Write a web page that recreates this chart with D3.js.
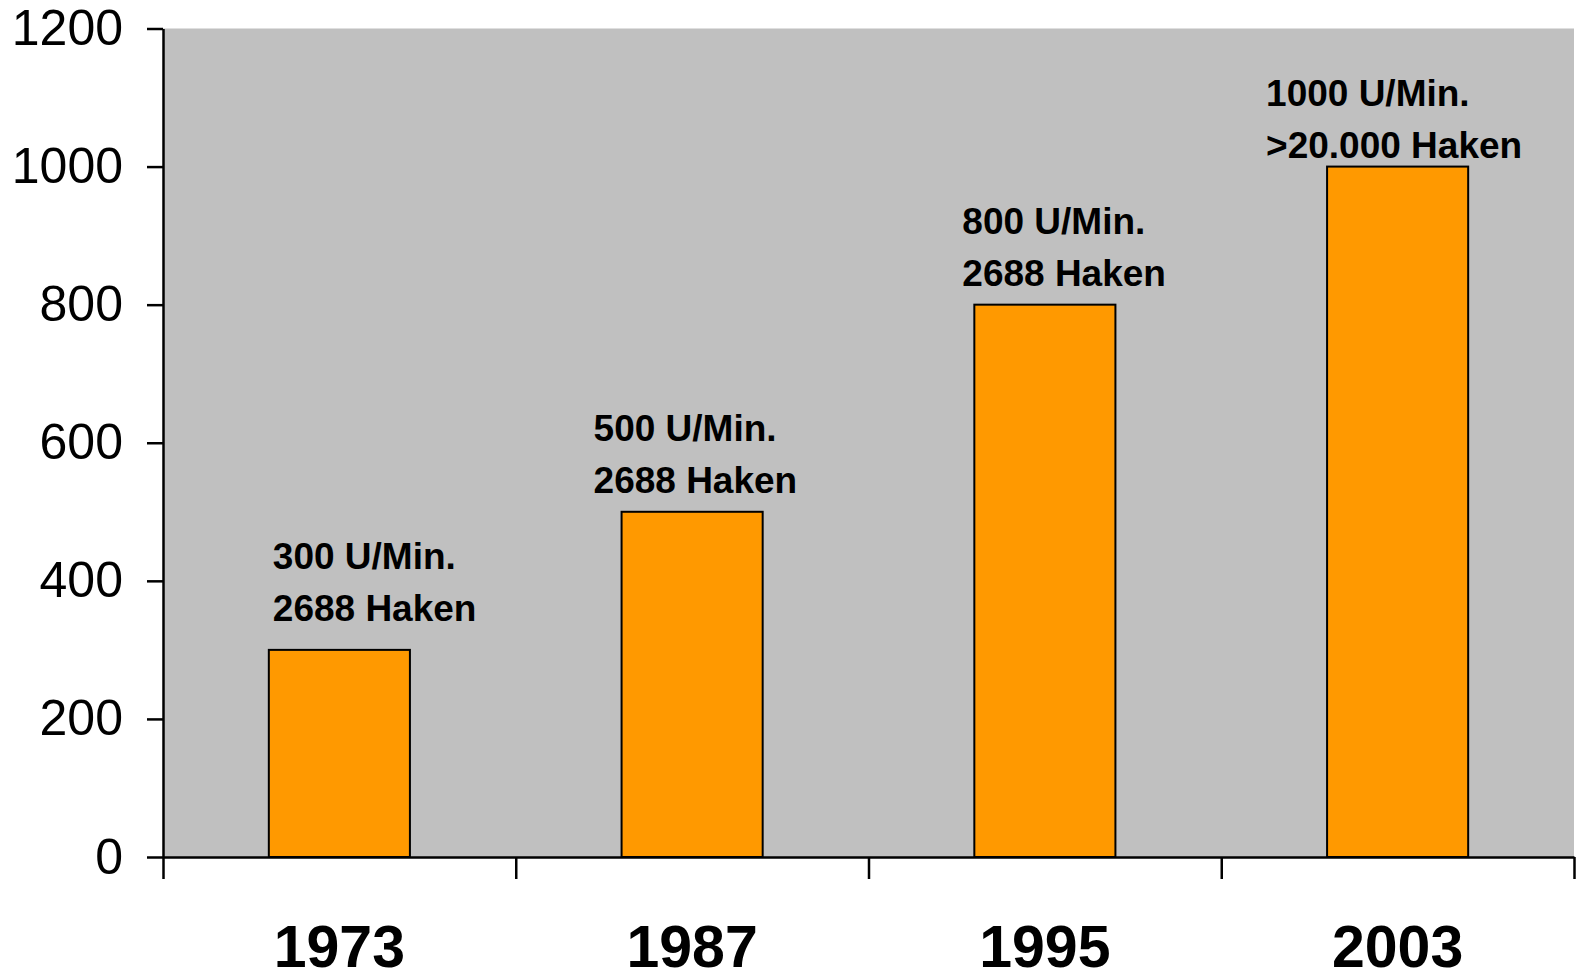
<!DOCTYPE html>
<html lang="de">
<head>
    <meta charset="UTF-8">
    <title>Drehzahl und Haken</title>
    <script src="https://d3js.org/d3.v7.min.js"></script>
    <style type="text/css">
        body {
            margin: 0;
            background: #ffffff;
            font-family: "Liberation Sans", Arial, sans-serif;
        }
        svg {
            display: block;
        }
        .domain, .tick line {
            stroke: #000;
            stroke-width: 2.5px;
        }
    </style>
</head>
<body>
    <div id="chart"></div>

    <script type="text/javascript">
        // Chart data
        const years = ['1973', '1987', '1995', '2003'];
        const speeds = [300, 500, 800, 1000];
        const labelLine1 = ['300 U/Min.', '500 U/Min.', '800 U/Min.', '1000 U/Min.'];
        const labelLine2 = ['2688 Haken', '2688 Haken', '2688 Haken', '>20.000 Haken'];
        const yTicks = [0, 200, 400, 600, 800, 1000, 1200];

        // Hand-placed annotation offsets (px, relative to bar top-left)
        const labelOffsets = [[4, -29], [-28, -19], [-12, -19], [-61, -9]];

        const width = 1577, height = 980;
        const plot = {left: 163, right: 1574, top: 28.5, bottom: 857};

        const svg = d3.select('#chart')
            .append('svg')
            .attr('width', width)
            .attr('height', height);

        // Scales
        const x = d3.scaleBand()
            .domain(years)
            .range([plot.left, plot.right])
            .paddingInner(0.6)
            .paddingOuter(0.3);

        const xEdges = d3.scaleLinear()
            .domain([0, years.length])
            .range([plot.left, plot.right]);

        const y = d3.scaleLinear()
            .domain([0, 1200])
            .range([plot.bottom, plot.top]);

        // Plot background
        svg.append('rect')
            .attr('x', plot.left)
            .attr('y', plot.top)
            .attr('width', plot.right - plot.left)
            .attr('height', plot.bottom - plot.top)
            .attr('fill', '#c0c0c0');

        // Bars
        svg.selectAll('.bar')
            .data(speeds)
            .enter().append('rect')
            .attr('class', 'bar')
            .attr('x', (d, i) => x(years[i]))
            .attr('y', d => y(d))
            .attr('width', x.bandwidth())
            .attr('height', d => y(0) - y(d))
            .attr('fill', '#ff9900')
            .attr('stroke', '#000')
            .attr('stroke-width', 2);

        // Annotations above bars
        const notes = svg.selectAll('.note')
            .data(speeds)
            .enter().append('text')
            .attr('class', 'note')
            .attr('font-size', '37px')
            .attr('font-weight', 'bold')
            .attr('fill', '#000');

        notes.append('tspan')
            .attr('x', (d, i) => x(years[i]) + labelOffsets[i][0])
            .attr('y', (d, i) => y(d) + labelOffsets[i][1] - 52)
            .text((d, i) => labelLine1[i]);

        notes.append('tspan')
            .attr('x', (d, i) => x(years[i]) + labelOffsets[i][0])
            .attr('y', (d, i) => y(d) + labelOffsets[i][1])
            .text((d, i) => labelLine2[i]);

        // Y axis
        const yAxis = d3.axisLeft(y)
            .tickValues(yTicks)
            .tickFormat(d3.format('d'))
            .tickSize(16)
            .tickSizeOuter(0)
            .tickPadding(24);

        const gy = svg.append('g')
            .attr('transform', `translate(${plot.left},0)`)
            .call(yAxis);
        gy.selectAll('text')
            .attr('font-size', '50px')
            .attr('font-family', '"Liberation Sans", Arial, sans-serif')
            .attr('fill', '#000');

        // X axis (ticks on category boundaries)
        const xAxis = d3.axisBottom(xEdges)
            .tickValues(d3.range(years.length + 1))
            .tickFormat('')
            .tickSize(22)
            .tickSizeOuter(0);

        svg.append('g')
            .attr('transform', `translate(0,${plot.bottom})`)
            .call(xAxis);

        // Year labels
        svg.selectAll('.year')
            .data(years)
            .enter().append('text')
            .attr('class', 'year')
            .attr('x', d => x(d) + x.bandwidth() / 2)
            .attr('y', 967)
            .attr('text-anchor', 'middle')
            .attr('font-size', '59px')
            .attr('font-weight', 'bold')
            .attr('fill', '#000')
            .text(d => d);
    </script>
</body>
</html>
